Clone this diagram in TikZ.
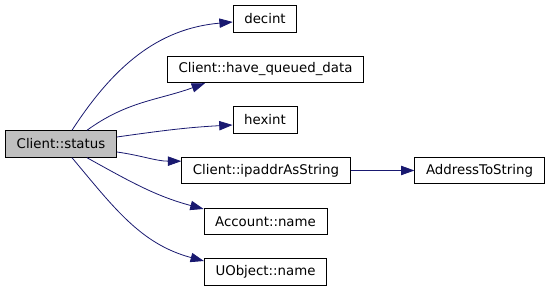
\documentclass[tikz,border=0pt]{standalone}
\usepackage{fontspec}
\setmainfont{DejaVu Sans}
\usepackage{xcolor}
\usepackage{tikz}
\usetikzlibrary{arrows.meta}

\definecolor{edgeblue}{HTML}{191970}
\definecolor{rootgray}{HTML}{BFBFBF}

\begin{document}
\begin{tikzpicture}[x = 0.75pt, y = -0.75pt,
    fn/.style = {draw, line width = 0.6pt, inner xsep = 8.4pt, inner ysep = 0pt,
                 minimum height = 20pt, font = \fontsize{10}{12}\selectfont},
    root/.style = {fn, fill = rootgray},
    call/.style = {draw = edgeblue, line width = 0.6pt,
                   -{Triangle[length = 10pt, width = 7pt, fill = edgeblue]}}]

  % page
  \useasboundingbox (0,0) rectangle (552,291);

  % caller
  \node[root] (status) at (61,144) {Client::status};

  % callees
  \node[fn] (decint)  at (265,19)     {decint};
  \node[fn] (queued)  at (265.5,69.5) {Client::have\_queued\_data};
  \node[fn] (hexint)  at (265,120)    {hexint};
  \node[fn] (ipaddr)  at (266,170.5)  {Client::ipaddrAsString};
  \node[fn] (addr)    at (479.5,170.5) {AddressToString};
  \node[fn] (account) at (265.5,221.5) {Account::name};
  \node[fn] (uobject) at (265.5,272)  {UObject::name};

  % calls
  \draw[call] ([xshift = 8.25pt]status.north) to[out = 57, in = 185] ([yshift = -2.25pt]decint.west);
  \draw[call] ([xshift = 19.5pt]status.north) to[out = 36, in = 200] ([xshift = -45.4pt]queued.south);
  \draw[call] ([yshift = 5.25pt]status.east) to[out = 8, in = 183] ([yshift = -3.75pt]hexint.west);
  \draw[call] ([yshift = -6pt]status.east) to[out = -8, in = 180] ([yshift = 7pt]ipaddr.west);
  \draw[call] ([xshift = 19.5pt]status.south) to[out = -29, in = 165] ([yshift = 9.4pt]account.west);
  \draw[call] ([xshift = 8.25pt]status.south) to[out = -50, in = 165] ([yshift = 8.25pt]uobject.west);
  \draw[call] (ipaddr) -- (addr);
\end{tikzpicture}
\end{document}
